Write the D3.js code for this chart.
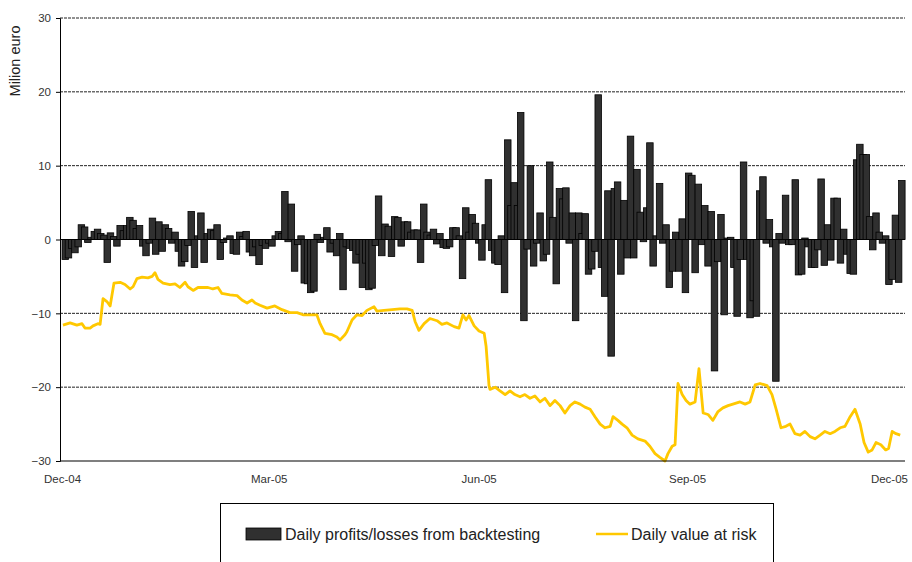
<!DOCTYPE html>
<html><head><meta charset="utf-8">
<script src="https://cdn.jsdelivr.net/npm/d3@7"></script>
<style>html,body{margin:0;padding:0;background:#fff;}svg{display:block;}</style>
</head><body>
<svg id="c" width="912" height="562"></svg>
<script>
// Daily profits/losses from backtesting (million euro), one per trading day
const pl = [
-2.7,-2.5,-1.2,-1.8,-1.0,2.0,1.7,-0.4,0.3,1.1,1.4,0.8,0.6,-3.1,0.9,0.4,-0.9,1.9,1.2,1.9,
3.0,2.6,1.5,1.9,-0.9,-2.2,-0.5,2.9,-2.0,2.4,-1.6,2.0,1.5,-0.5,1.0,-1.6,-3.6,-3.0,-0.8,3.8,
-3.8,0.5,3.6,-3.1,0.8,1.4,1.2,2.0,-2.7,-0.4,0.2,0.5,-1.9,-2.0,1.0,0.4,1.1,-1.7,-2.2,-1.0,
-3.4,-0.8,-1.2,-0.5,-0.9,0.5,1.1,0.8,6.5,-0.3,4.8,-4.3,-0.7,0.5,-5.9,-6.0,-7.2,-7.0,0.7,-0.4,
0.3,1.6,-1.7,-0.5,-2.2,0.8,-6.8,-1.0,-1.2,-1.5,-3.2,-2.0,-6.5,-3.2,-6.8,-6.6,-0.8,5.9,-2.2,2.1,
1.8,-2.3,3.1,3.0,-0.9,2.4,2.4,1.0,1.3,1.3,-3.1,4.8,1.0,0.6,1.4,-0.6,0.8,-1.1,-1.2,-1.0,
1.6,1.6,0.5,-5.3,4.3,1.0,3.4,2.2,-0.5,-2.8,2.0,8.1,-1.5,-3.2,-3.4,0.5,-7.2,13.5,4.6,7.7,
4.6,17.2,-11.0,-1.3,10.0,-3.6,-0.5,3.6,-2.9,-2.0,10.5,3.0,-6.0,6.9,5.5,7.0,-0.5,3.6,-11.0,3.6,
0.8,3.5,-4.7,-4.0,-1.6,19.6,-3.8,-7.7,6.6,-15.8,6.9,7.8,-4.7,5.3,-2.5,14.0,-2.5,9.5,3.7,-0.3,
4.3,13.1,-3.6,0.5,7.6,-0.5,2.0,-6.5,-4.3,1.0,-4.3,2.8,-7.2,9.0,8.7,-4.5,7.5,-0.7,4.6,-3.6,
3.8,-17.8,-3.0,3.4,-10.2,0.2,0.3,-3.8,-10.4,-2.7,10.5,-2.7,-10.6,-8.3,-10.4,6.6,8.5,-0.5,2.7,-1.0,
-19.2,0.8,-0.5,6.0,-0.7,-0.7,8.1,-4.8,-4.7,0.2,-1.0,-3.8,-3.8,-1.4,8.2,-3.5,2.0,-2.8,5.6,5.6,
-3.2,1.4,-2.0,-4.6,-4.7,10.8,12.9,11.5,11.5,3.1,-1.4,3.6,1.0,-0.5,0.5,-6.1,-5.4,3.3,-5.8,8.0
];
// Daily value at risk: trading-day position and value (million euro)
const varDay = [
0.3,2.5,4.6,6.2,7.1,8.7,9.6,11.1,11.8,12.7,13.9,14.9,16.1,18.0,19.5,21.1,22.0,23.2,24.8,26.6,
27.9,28.8,29.7,31.3,33.4,35.0,36.5,38.1,39.0,40.6,42.1,43.7,45.2,46.7,48.3,49.5,52.0,54.2,55.7,57.3,
58.8,59.8,61.3,63.5,65.9,68.1,70.6,72.8,74.6,76.8,78.9,79.9,81.4,83.6,85.1,86.1,87.6,88.2,89.8,91.3,
92.9,94.4,96.6,97.5,99.7,102.2,104.6,106.8,108.4,109.3,110.5,112.1,113.9,116.1,117.6,119.2,121.4,122.9,124.1,125.1,
126.0,127.6,129.1,130.7,131.3,132.2,132.5,134.1,135.6,137.2,138.7,140.2,141.8,143.3,144.9,146.4,148.0,149.5,151.1,152.6,
154.2,155.7,157.3,158.8,160.4,161.9,163.5,165.0,166.6,168.1,169.7,170.6,172.1,173.4,174.9,176.5,178.3,180.5,182.0,183.6,
185.1,186.7,187.6,188.9,189.8,190.7,192.0,193.2,194.4,196.0,197.2,198.5,200.0,201.5,203.1,204.6,206.2,207.7,209.9,211.5,
213.0,214.6,216.1,218.3,219.8,221.1,222.6,224.1,225.4,226.9,228.5,230.0,231.6,233.1,234.7,236.2,237.8,239.3,240.9,242.4,
244.0,245.5,247.1,248.3,249.6,250.8,252.0,253.5,255.0,255.9,257.0,258.2,259.5
];
const varVal = [
-11.6,-11.3,-11.6,-11.4,-12.0,-12.0,-11.7,-11.4,-11.5,-8.0,-8.4,-9.0,-5.9,-5.8,-6.1,-6.7,-6.4,-5.3,-5.1,-5.2,
-5.0,-4.5,-5.4,-5.9,-6.1,-6.0,-6.5,-5.8,-6.4,-6.9,-6.5,-6.5,-6.5,-6.7,-6.5,-7.3,-7.5,-7.6,-8.2,-8.6,
-8.2,-8.6,-8.9,-9.3,-9.0,-9.5,-9.9,-9.9,-10.2,-10.2,-10.2,-11.4,-12.7,-12.9,-13.2,-13.6,-12.9,-12.5,-10.9,-10.2,
-10.3,-9.6,-9.1,-9.7,-9.6,-9.5,-9.4,-9.4,-9.6,-11.1,-12.3,-11.4,-10.7,-11.0,-11.5,-11.3,-11.8,-12.0,-10.2,-10.9,
-10.3,-11.7,-12.4,-12.7,-14.5,-19.8,-20.3,-20.0,-20.5,-21.0,-20.5,-21.0,-21.3,-21.0,-21.5,-21.2,-22.0,-21.5,-22.5,-21.8,
-22.5,-23.5,-22.5,-22.0,-22.3,-22.7,-23.0,-24.0,-25.0,-25.5,-25.3,-24.0,-24.5,-25.0,-25.5,-26.5,-27.0,-27.3,-28.0,-29.0,
-29.5,-30.0,-29.0,-28.0,-27.8,-19.5,-21.0,-21.8,-22.3,-22.0,-17.5,-23.5,-23.7,-24.5,-23.3,-22.8,-22.5,-22.3,-22.0,-22.3,
-22.0,-19.7,-19.5,-19.8,-21.0,-23.0,-25.5,-25.3,-25.0,-26.3,-26.5,-26.0,-26.7,-27.0,-26.5,-26.0,-26.3,-26.0,-25.5,-25.3,
-24.0,-23.0,-25.0,-27.5,-28.8,-28.5,-27.5,-27.8,-28.5,-28.3,-26.0,-26.3,-26.5
];
const yTicks = [30, 20, 10, 0, -10, -20, -30];
const xTickDay = [0, 64, 129, 193.5, 256];
const xTickLabels = ["Dec-04", "Mar-05", "Jun-05", "Sep-05", "Dec-05"];
const seriesNames = ["Daily profits/losses from backtesting", "Daily value at risk"];
const yTitle = "Milion euro";

const svg = d3.select("#c");
const font = "'Liberation Sans', Arial, sans-serif";
const L = 60, R = 905, T = 18, B = 461;
const x = d3.scaleLinear().domain([0, pl.length - 1]).range([62, 898.6]);
const y = d3.scaleLinear().domain([-30, 30]).range([B, T]);
const barW = 6.5;

// gridlines
svg.append("g").selectAll("line").data(yTicks.filter(d => d !== 0 && d !== -30)).join("line")
  .attr("x1", L).attr("x2", R).attr("y1", d => y(d)).attr("y2", d => y(d))
  .attr("stroke", "#222").attr("stroke-width", 1).attr("stroke-dasharray", "3,1");

// bars
svg.append("g").selectAll("rect").data(pl).join("rect")
  .attr("x", (d, i) => x(i))
  .attr("y", d => y(Math.max(0, d)))
  .attr("width", barW)
  .attr("height", d => Math.abs(y(d) - y(0)))
  .attr("fill", "#303030")
  .attr("stroke", "#000").attr("stroke-width", 0.8);

// zero line
svg.append("line").attr("x1", L).attr("x2", R).attr("y1", y(0)).attr("y2", y(0))
  .attr("stroke", "#000").attr("stroke-width", 1);

// VaR line
const pts = varDay.map((d, i) => [d, varVal[i]]);
svg.append("path").datum(pts)
  .attr("fill", "none").attr("stroke", "#FFC800").attr("stroke-width", 2.8)
  .attr("stroke-linejoin", "round")
  .attr("d", d3.line().x(d => x(d[0])).y(d => y(d[1])));

// y axis
const yAxis = d3.axisLeft(y).tickValues(yTicks).tickSize(4).tickPadding(5);
const gy = svg.append("g").attr("transform", `translate(${L},0)`).call(yAxis);
gy.select(".domain").attr("stroke", "#000");
gy.selectAll(".tick line").attr("stroke", "#000");
gy.selectAll("text").attr("font-family", font).attr("font-size", 11.5).attr("fill", "#333");

// x axis
const xAxis = d3.axisBottom(x).tickValues(xTickDay).tickSize(0).tickPadding(14)
  .tickFormat((d, i) => xTickLabels[i]);
const gx = svg.append("g").attr("transform", `translate(0,${B})`).call(xAxis);
gx.select(".domain").remove();
gx.append("line").attr("x1", L).attr("x2", R).attr("stroke", "#000").attr("stroke-width", 1.2);
gx.selectAll("text").attr("font-family", font).attr("font-size", 11.5).attr("fill", "#333");

// y title
svg.append("text").attr("transform", "translate(20,61) rotate(-90)")
  .attr("text-anchor", "middle").attr("font-family", font).attr("font-size", 14.5).attr("fill", "#222")
  .text(yTitle);

// legend
const lg = svg.append("g");
lg.append("rect").attr("x", 220.5).attr("y", 503.5).attr("width", 553).attr("height", 70)
  .attr("fill", "#fff").attr("stroke", "#000").attr("stroke-width", 1);
lg.append("rect").attr("x", 246).attr("y", 528).attr("width", 35).attr("height", 12)
  .attr("fill", "#303030").attr("stroke", "#000").attr("stroke-width", 0.8);
lg.append("text").attr("x", 285).attr("y", 540).attr("font-family", font).attr("font-size", 16)
  .attr("fill", "#222").text(seriesNames[0]);
lg.append("line").attr("x1", 596).attr("x2", 628).attr("y1", 534).attr("y2", 534)
  .attr("stroke", "#FFC800").attr("stroke-width", 2.5);
lg.append("text").attr("x", 631).attr("y", 540).attr("font-family", font).attr("font-size", 16)
  .attr("fill", "#222").text(seriesNames[1]);
</script>
</body></html>
